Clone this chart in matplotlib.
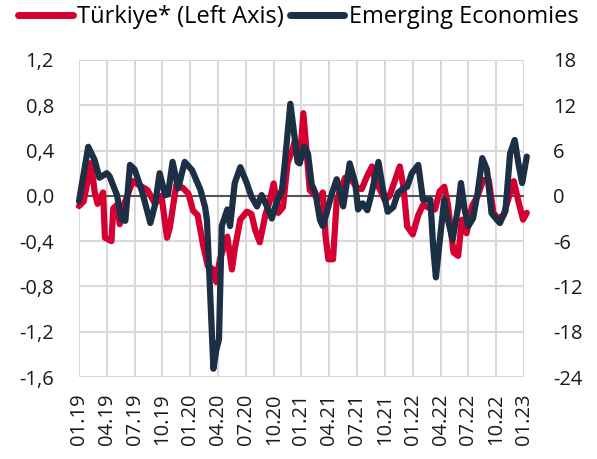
import matplotlib.pyplot as plt
from matplotlib.lines import Line2D

plt.rcParams['font.family'] = ['Open Sans', 'DejaVu Sans']

# months since 01.2019
tr_x = [0.0, 0.5, 1.3, 1.7, 2.0, 2.6, 2.8, 3.5, 3.7, 4.1, 4.4, 4.7, 5.8, 6.8, 7.4, 8.2, 8.9, 9.5, 9.8,
        10.5, 11.2, 11.8, 12.3, 12.8, 13.4, 13.9, 14.5, 14.8, 15.2, 16.0, 16.5, 16.8, 17.4, 18.1, 18.6,
        19.0, 19.5, 20.1, 20.6, 21.0, 21.5, 22.0, 22.5, 23.0, 23.3, 23.6, 23.8, 24.2, 24.6, 24.9, 25.5,
        26.0, 26.3, 26.6, 26.9, 27.4, 27.8, 28.2, 28.7, 29.4, 30.0, 30.5, 31.0, 31.6, 31.9, 32.5, 33.0,
        33.5, 34.1, 34.6, 35.0, 35.4, 36.0, 36.6, 37.1, 37.6, 38.4, 38.9, 39.4, 39.8, 40.4, 40.9, 41.3,
        41.8, 42.4, 43.0, 43.6, 44.2, 44.7, 45.2, 45.8, 46.3, 46.9, 47.4, 47.9, 48.3]
tr_y = [-0.09, -0.05, 0.29, 0.03, -0.07, 0.03, -0.37, -0.40, -0.11, -0.08, -0.25, -0.11, 0.13, 0.08,
        0.05, -0.07, 0.0, -0.37, -0.28, 0.10, 0.07, 0.02, -0.13, -0.17, -0.44, -0.62, -0.65, -0.76,
        -0.56, -0.36, -0.65, -0.47, -0.21, -0.14, -0.16, -0.30, -0.41, -0.17, -0.04, 0.11, -0.15, -0.10,
        0.29, 0.40, 0.49, 0.30, 0.29, 0.73, 0.34, 0.05, 0.0, -0.02, 0.03, -0.36, -0.56, -0.56, -0.04,
        0.05, 0.16, 0.14, 0.07, 0.06, 0.16, 0.26, 0.14, 0.05, -0.04, 0.0, 0.14, 0.26, 0.08, -0.27,
        -0.34, -0.17, -0.08, -0.10, -0.12, 0.04, 0.08, -0.08, -0.50, -0.53, -0.21, -0.33, -0.09, 0.0,
        0.14, 0.14, -0.15, -0.20, -0.17, -0.03, 0.13, -0.05, -0.21, -0.15]

em_x = [0.0, 1.0, 1.7, 2.2, 3.0, 3.3, 4.1, 4.6, 5.0, 5.5, 6.0, 6.8, 7.7, 8.2, 8.7, 9.3, 9.6, 10.1,
        10.7, 11.4, 12.2, 13.1, 13.6, 13.8, 14.1, 14.5, 14.8, 15.1, 15.4, 16.0, 16.3, 16.8, 17.4, 18.1,
        18.6, 19.2, 19.7, 20.2, 20.8, 21.3, 21.9, 22.2, 22.8, 23.3, 23.6, 23.8, 24.3, 24.7, 25.1, 25.5,
        26.0, 26.3, 26.7, 27.3, 27.8, 28.5, 29.2, 29.8, 30.1, 30.6, 31.1, 31.5, 32.3, 32.8, 33.3, 33.9,
        34.4, 35.0, 35.4, 35.9, 36.6, 37.1, 37.9, 38.2, 38.5, 38.9, 39.4, 39.8, 40.3, 40.9, 41.2, 41.6,
        42.0, 42.5, 43.0, 43.5, 44.0, 44.5, 45.1, 45.4, 46.0, 46.5, 47.0, 47.4, 47.8, 48.3]
em_y = [-0.7, 6.5, 4.7, 2.4, 3.0, 2.6, 0.1, -3.2, -3.3, 4.1, 3.5, 0.6, -3.6, -1.2, 3.0, 0.1, 0.2, 4.5,
        1.0, 4.5, 3.4, 0.8, -1.5, -3.2, -11.5, -22.9, -20.5, -19.0, -4.0, -1.8, -4.0, 1.7, 3.8, 1.7,
        -0.1, -1.4, 0.1, -1.2, -3.0, -0.9, 0.8, 4.3, 12.2, 7.4, 4.5, 4.3, 6.5, 5.6, 1.5, 0.4, -3.2,
        -4.0, -2.3, 0.4, 2.2, -1.4, 4.3, 1.7, -1.8, -1.0, -1.9, 0.0, 4.5, 0.8, -2.1, -1.5, 0.4, 1.0,
        1.2, 3.0, 4.1, -0.5, -0.5, -6.7, -10.8, -6.1, -0.5, -3.2, -5.8, -1.5, 1.7, -1.8, -4.0, -3.0,
        0.4, 5.0, 3.5, -2.3, -3.2, -3.6, -2.0, 5.6, 7.4, 4.3, 1.7, 5.2]

tick_pos = list(range(0, 49, 3))
tick_labels = ['01.19', '04.19', '07.19', '10.19', '01.20', '04.20', '07.20', '10.20', '01.21',
               '04.21', '07.21', '10.21', '01.22', '04.22', '07.22', '10.22', '01.23']
left_ticks = [-1.6, -1.2, -0.8, -0.4, 0.0, 0.4, 0.8, 1.2]
right_ticks = [-24, -18, -12, -6, 0, 6, 12, 18]

red = '#d50032'
navy = '#1c2f45'
fs = 14.5

fig = plt.figure(figsize=(5.97, 4.59), dpi=100)
ax = fig.add_axes([0.1323, 0.1786, 0.8777 - 0.1323, 0.8693 - 0.1786])
ax2 = ax.twinx()

ax.axhline(0, color='#555555', lw=1.5, zorder=1)
ax.plot(tr_x, tr_y, color=red, lw=4.5, solid_joinstyle='round', solid_capstyle='round',
        zorder=2, clip_on=False)
ax2.plot(em_x, em_y, color=navy, lw=4.5, solid_joinstyle='round', solid_capstyle='round',
         zorder=2, clip_on=False)

ax.set_xlim(0, 48)
ax.set_ylim(-1.6, 1.2)
ax2.set_ylim(-24, 18)
ax.set_xticks(tick_pos)
ax.set_xticklabels(tick_labels, rotation=90, fontsize=fs)
ax.set_yticks(left_ticks)
ax.set_yticklabels([f'{v:.1f}'.replace('.', ',') for v in left_ticks], fontsize=fs)
ax2.set_yticks(right_ticks)
ax2.set_yticklabels([str(v) for v in right_ticks], fontsize=fs)

ax.grid(True, color='#d9d9d9', lw=1.5)
ax.set_axisbelow(True)
for a in (ax, ax2):
    for s in a.spines.values():
        s.set_visible(False)
ax.tick_params(axis='y', length=0, pad=18, colors='#1a1a1a')
ax.tick_params(axis='x', length=0, pad=12, colors='#1a1a1a')
ax2.tick_params(axis='y', length=0, pad=21, colors='#1a1a1a')

handles = [Line2D([], [], color=red, lw=5, solid_capstyle='round'),
           Line2D([], [], color=navy, lw=5, solid_capstyle='round')]
fig.legend(handles, ['Türkiye* (Left Axis)', 'Emerging Economies'], loc='center',
           bbox_to_anchor=(0.5, 0.962), ncol=2, frameon=False, fontsize=17,
           handlelength=2.3, handletextpad=0.2, columnspacing=0.25)

fig.savefig('out.png', dpi=100)
